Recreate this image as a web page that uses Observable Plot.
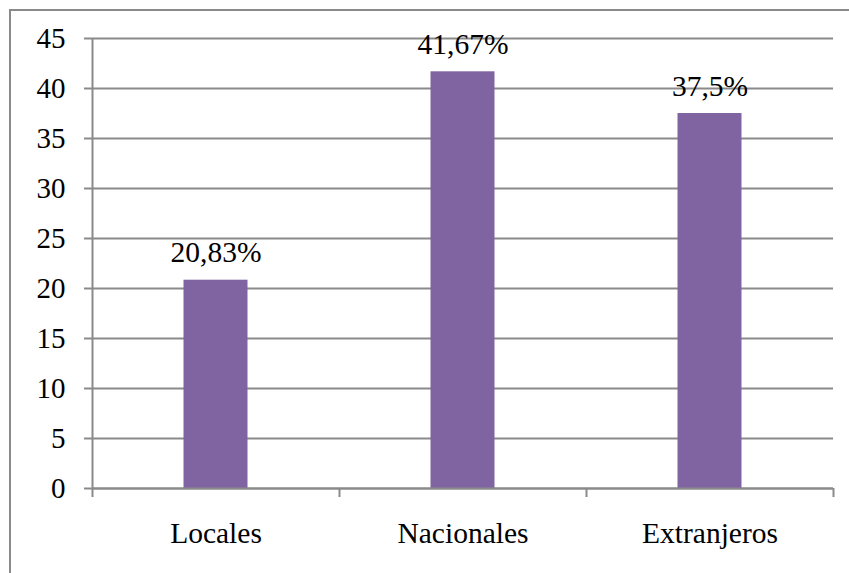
<!DOCTYPE html>
<html><head><meta charset="utf-8">
<script src="https://cdn.jsdelivr.net/npm/d3@7"></script>
<script src="https://cdn.jsdelivr.net/npm/@observablehq/plot@0.6"></script>
<style>
body{margin:0;background:#fff}
#wrap{position:relative;width:849px;height:573px;overflow:hidden}
#frame{position:absolute;left:9px;top:9px;width:900px;height:700px;border-left:2px solid #8a8a8a;border-top:2px solid #8a8a8a}
#chart{position:absolute;left:0;top:0}
#chart svg text{font-family:"Liberation Serif","Times New Roman",serif !important;font-variant:normal !important}
</style></head><body>
<div id="wrap"><div id="frame"></div><div id="chart"></div></div>
<script>
const categories = ["Locales", "Nacionales", "Extranjeros"];
const values = [20.83, 41.67, 37.5];
const valueLabels = ["20,83%", "41,67%", "37,5%"];
const yTicks = [0, 5, 10, 15, 20, 25, 30, 35, 40, 45];

const data = categories.map((c, i) => ({category: c, pos: i, value: values[i], label: valueLabels[i]}));
const font = '"Liberation Serif","Times New Roman",serif';
const grid = "#8a8a8a";

const plot = Plot.plot({
  width: 849, height: 573,
  marginLeft: 92, marginRight: 16, marginTop: 38, marginBottom: 85,
  style: {fontFamily: font, fontSize: "29px", color: "#000", background: "transparent"},
  x: {domain: [0, categories.length], axis: null},
  y: {domain: [0, 45], axis: null},
  marks: [
    Plot.ruleY(yTicks, {stroke: grid, strokeWidth: 2, strokeOpacity: 1}),
    Plot.axisY({ticks: yTicks, tickSize: 8, tickPadding: 19, stroke: grid, strokeWidth: 2, strokeOpacity: 1, fontSize: 29, fontVariant: "normal", label: null, fill: "#000"}),
    Plot.ruleX([0], {stroke: grid, strokeWidth: 2, strokeOpacity: 1}),
    Plot.axisX({ticks: d3.range(categories.length + 1), tickSize: 9, tickFormat: () => "", stroke: grid, strokeWidth: 2, strokeOpacity: 1, label: null}),
    Plot.rectY(data, {x1: d => d.pos, x2: d => d.pos + 1, y: "value", insetLeft: 91.5, insetRight: 91.5, fill: "#8064A2"}),
    Plot.ruleY([0], {stroke: grid, strokeWidth: 2, strokeOpacity: 1}),
    Plot.text(data, {x: d => d.pos + 0.5, y: "value", text: "label", dy: -18, lineAnchor: "bottom", fontSize: 29.5, fontFamily: font, fontVariant: "normal", fill: "#000"}),
    Plot.text(data, {x: d => d.pos + 0.5, y: 0, text: "category", dy: 45, lineAnchor: "middle", fontSize: 29.5, fontFamily: font, fill: "#000"})
  ]
});
document.getElementById("chart").appendChild(plot);
</script>
</body></html>
